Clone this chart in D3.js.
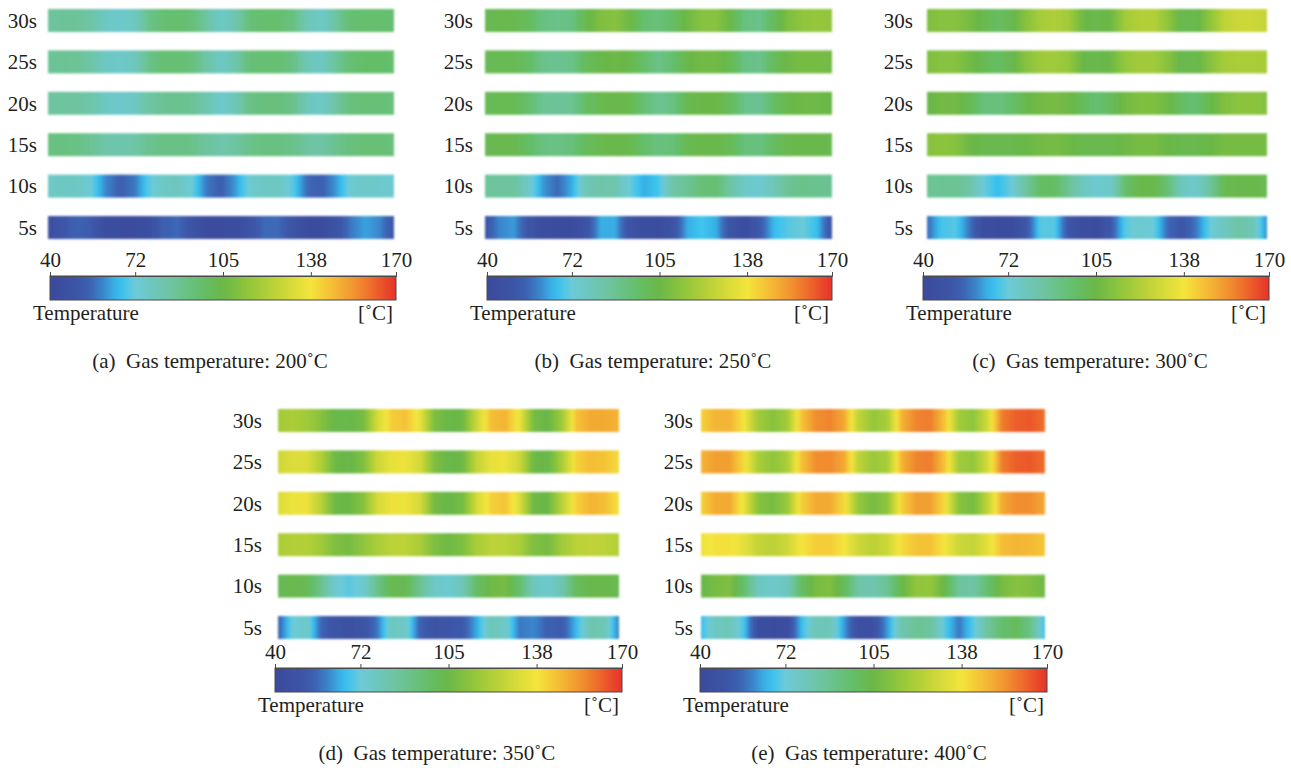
<!DOCTYPE html>
<html><head><meta charset="utf-8">
<script src="https://cdn.jsdelivr.net/npm/d3@7"></script>
<style>
body{margin:0;background:#fff}
svg{display:block}
text{font-family:"Liberation Serif","Times New Roman",serif;fill:#231f20}
</style>
</head><body>
<svg id="chart" width="1291" height="772"></svg>
<script>
// ---------- data ----------
const times = ["30s","25s","20s","15s","10s","5s"];
const tickValues = [40,72,105,138,170];
const gasTemps = ["200","250","300","350","400"];
const panelLetters = ["a","b","c","d","e"];
const colorStops = [40,50,55,60,64,67,72,85,97,105,116,126,138,148,156,163,170];
const colorHex = ["#3b4a9c","#3c55a6","#3c62b2","#3a86cc","#39aee4","#3ac2ee","#6ccad8","#6ec4a2","#64be68","#6ab747","#98c83a","#c4d438","#f4e53c","#f4b434","#f08a2e","#ec5e2a","#e6322a"];

// temperature samples (°C) along each strip, 25 evenly spaced points, rows 30s..5s
const gas200 = [
  [86,87,87,84,77,75,77,90,95,96,94,85,76,82,94,96,96,92,80,76,86,95,96,96,95],
  [87,88,88,84,77,76,78,90,95,95,93,84,77,83,94,95,95,91,80,77,87,95,97,97,96],
  [85,86,86,83,77,75,77,85,88,89,88,82,75,80,91,93,93,90,79,76,85,93,94,94,93],
  [92,92,91,88,83,82,84,89,91,91,90,86,83,85,90,92,92,90,85,84,89,93,94,94,93],
  [76,77,77,72,60,54,58,70,77,78,72,58,54,62,74,77,77,70,56,54,62,74,76,75,74],
  [44,50,55,52,44,42,42,45,54,56,48,42,42,43,48,56,56,48,42,42,48,58,63,60,50]
];
const gas250 = [
  [102,103,103,100,92,90,92,103,110,112,106,96,93,98,106,112,112,104,92,90,100,110,114,115,114],
  [101,102,102,98,90,88,90,100,104,106,104,97,90,96,104,107,107,102,91,90,100,106,108,108,107],
  [101,102,102,96,88,87,88,98,103,104,103,95,88,92,103,105,105,100,89,88,98,104,106,106,105],
  [102,103,103,98,92,91,93,100,103,104,103,97,92,94,102,104,104,101,93,92,99,103,104,104,103],
  [86,86,86,76,62,56,64,80,84,82,72,64,68,84,88,94,95,84,76,74,80,88,90,89,88],
  [50,60,62,50,43,42,42,48,64,64,48,43,42,48,64,68,64,48,43,52,66,70,72,66,48]
];
const gas300 = [
  [110,112,112,108,103,99,103,112,119,121,118,106,103,106,118,122,122,114,103,103,114,125,128,128,126],
  [110,112,112,107,102,98,103,112,117,118,115,105,103,106,115,118,118,112,103,103,112,119,120,120,119],
  [104,107,107,102,93,92,97,104,107,108,106,100,95,100,107,110,110,106,98,95,104,110,113,113,111],
  [112,113,112,106,103,103,103,105,107,108,106,103,103,103,106,108,108,105,103,103,105,108,108,108,108],
  [88,88,88,84,72,66,72,86,98,98,88,78,74,76,96,104,104,94,78,75,86,102,104,104,102],
  [56,68,70,58,43,42,42,50,70,70,50,43,42,52,70,74,72,56,50,58,72,78,84,80,60]
];
const gas350 = [
  [118,120,118,112,104,104,108,130,143,145,135,110,104,106,128,146,148,136,108,104,118,145,150,150,148],
  [128,132,132,122,106,104,110,128,135,136,130,110,104,106,126,135,136,128,106,104,120,142,146,145,140],
  [132,136,136,124,106,105,112,130,136,136,130,108,104,108,130,142,145,132,106,105,124,142,148,146,138],
  [120,122,122,118,110,108,114,120,124,124,120,110,106,110,120,124,124,120,110,108,118,124,125,124,122],
  [102,103,102,90,74,70,74,90,103,102,88,76,74,80,98,106,108,96,78,75,82,100,104,104,102],
  [54,72,76,56,48,46,48,58,78,76,54,48,50,52,64,80,76,58,60,54,52,66,82,80,58]
];
const gas400 = [
  [142,148,148,138,118,112,118,145,155,157,150,125,115,120,148,157,158,145,118,114,130,158,163,164,160],
  [148,152,152,140,120,114,120,145,155,156,150,125,116,120,148,157,158,145,118,115,130,158,163,164,160],
  [142,150,150,135,112,108,116,142,150,150,140,115,108,114,142,152,152,140,112,108,125,150,155,155,150],
  [136,139,139,134,126,124,128,138,143,143,138,128,124,128,140,145,145,138,128,126,134,146,148,147,144],
  [104,108,110,96,78,75,78,98,108,110,100,84,82,88,104,114,115,104,86,84,96,108,112,110,106],
  [66,78,80,68,44,42,43,66,80,80,62,45,46,62,82,88,86,70,58,70,86,96,100,90,66]
];
const panelData = [gas200, gas250, gas300, gas350, gas400];

// ---------- layout ----------
const layout = [
  {sx0:48,  sx1:394,  top:9,   lab:37,  bx0:50,  bx1:396,  by:276, cap:210},
  {sx0:485, sx1:832,  top:9,   lab:473, bx0:487, bx1:832,  by:276, cap:653},
  {sx0:927, sx1:1267, top:9,   lab:913, bx0:923, bx1:1269, by:276, cap:1090},
  {sx0:278, sx1:619,  top:409, lab:262, bx0:275, bx1:622,  by:668, cap:437},
  {sx0:701, sx1:1045, top:409, lab:693, bx0:700, bx1:1047, by:668, cap:869}
];
const stripH = 23, rowSpan = 207, barH = 24, fs = 21;

const color = d3.scaleLinear().domain(colorStops).range(colorHex).interpolate(d3.interpolateRgb).clamp(true);

const svg = d3.select("#chart");
const defs = svg.append("defs");
const blur = defs.append("filter").attr("id","soft").attr("x","-5%").attr("y","-30%").attr("width","110%").attr("height","160%");
blur.append("feGaussianBlur").attr("stdDeviation",0.8);

panelData.forEach((rows, p) => {
  const L = layout[p];
  const g = svg.append("g");
  const y = d3.scalePoint().domain(times).range([L.top, L.top + rowSpan]);
  const n = rows[0].length;
  const xs = d3.scaleLinear().domain([0, n-1]).range([L.sx0, L.sx1]);

  // row labels
  g.selectAll("text.row").data(times).join("text")
    .attr("class","row")
    .attr("x", L.lab).attr("y", d => y(d) + stripH/2)
    .attr("dy","0.35em").attr("text-anchor","end")
    .style("font-size", fs + "px").text(d => d);

  // strips
  rows.forEach((vals, r) => {
    const id = `g${p}_${r}`;
    const grad = defs.append("linearGradient").attr("id", id)
      .attr("gradientUnits","userSpaceOnUse")
      .attr("x1", xs(0)).attr("x2", xs(n-1)).attr("y1",0).attr("y2",0);
    const sub = 6;
    for (let i = 0; i < n-1; i++) {
      const it = d3.interpolateNumber(vals[i], vals[i+1]);
      for (let k = 0; k < sub; k++) {
        const t = k/sub;
        grad.append("stop").attr("offset", (i + t)/(n-1)).attr("stop-color", color(it(t)));
      }
    }
    grad.append("stop").attr("offset",1).attr("stop-color", color(vals[n-1]));
    g.append("rect")
      .attr("x", xs(0)).attr("y", y(times[r]))
      .attr("width", xs(n-1) - xs(0)).attr("height", stripH)
      .attr("fill", `url(#${id})`).attr("filter","url(#soft)");
  });

  // colour bar
  const cx = d3.scaleLinear().domain([40,170]).range([L.bx0, L.bx1]);
  const cbid = `cb${p}`;
  const cg = defs.append("linearGradient").attr("id", cbid)
    .attr("gradientUnits","userSpaceOnUse")
    .attr("x1", L.bx0).attr("x2", L.bx1).attr("y1",0).attr("y2",0);
  d3.range(40, 171, 2).forEach(v => cg.append("stop").attr("offset",(v-40)/130).attr("stop-color", color(v)));
  g.append("rect").attr("x", L.bx0).attr("y", L.by).attr("width", L.bx1 - L.bx0).attr("height", barH)
    .attr("fill", `url(#${cbid})`).attr("stroke","#4a4a4a").attr("stroke-width",1);
  const ax = g.append("g").attr("transform", `translate(0,${L.by})`)
    .call(d3.axisTop(cx).tickValues(tickValues).tickSize(4).tickSizeOuter(4).tickPadding(5));
  ax.selectAll("path,line").attr("stroke","#4a4a4a");
  ax.selectAll("text").style("font-size", fs + "px").attr("fill","#231f20");
  ax.attr("font-family",null).attr("font-size",null);

  g.append("text").attr("x", L.bx0 - 17).attr("y", L.by + barH + 20)
    .style("font-size", fs + "px").text("Temperature");
  g.append("text").attr("x", L.bx1 - 3).attr("y", L.by + barH + 20).attr("text-anchor","end")
    .style("font-size", fs + "px").text("[˚C]");
  g.append("text").attr("x", L.cap).attr("y", L.by + barH + 68).attr("text-anchor","middle")
    .style("font-size", fs + "px")
    .text(`(${panelLetters[p]})\u2002Gas temperature: ${gasTemps[p]}˚C`);
});
</script>
</body></html>
